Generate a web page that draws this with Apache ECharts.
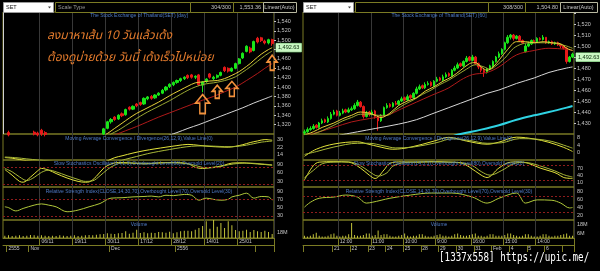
<!DOCTYPE html>
<html><head><meta charset="utf-8">
<script src="https://cdn.jsdelivr.net/npm/echarts@6/dist/echarts.min.js"></script>
<style>html,body{margin:0;padding:0;background:#000;}#c{width:600px;height:271px;}</style>
</head><body><div id="c"></div><script>
// ---------------- LEFT PANEL (daily) ----------------
const leftDates = ['22/10','24/10','25/10','26/10','29/10','30/10','31/10',
 '01/11','02/11','05/11','06/11','07/11','08/11','09/11','12/11','13/11','14/11','15/11','16/11','19/11','20/11','21/11','22/11','23/11','26/11','27/11','28/11','29/11','30/11',
 '03/12','04/12','06/12','07/12','11/12','12/12','13/12','14/12','17/12','18/12','19/12','20/12','21/12','24/12','25/12','26/12','27/12','28/12',
 '02/01','03/01','04/01','07/01','08/01','09/01','10/01','11/01','14/01','15/01','16/01','17/01','18/01','21/01','22/01','23/01','24/01','25/01','28/01','29/01','30/01','31/01',
 '01/02','04/02','05/02','06/02','07/02'];
// [open, close, low, high]
const leftOHLC = [
 [1296,1293,1289,1299],[1303,1298,1295,1307],[1297,1292,1289,1299],[1291,1287,1284,1294],[1286,1283,1279,1289],
 [1284,1288,1282,1291],[1289,1294,1287,1297],[1294,1298,1292,1299],[1304,1300,1297,1307],[1302,1298,1295,1305],
 [1308,1300,1296,1311],[1303,1299,1295,1306],[1294,1289,1286,1297],[1288,1284,1281,1291],[1284,1281,1278,1287],
 [1280,1277,1273,1283],[1278,1282,1276,1285],[1281,1277,1274,1284],[1276,1272,1268,1279],[1273,1276,1270,1279],
 [1277,1274,1271,1280],[1275,1279,1273,1282],[1280,1284,1278,1287],[1285,1288,1283,1291],[1289,1286,1283,1292],
 [1287,1292,1285,1295],[1292,1297,1290,1299],[1300,1311,1298,1313],[1312,1326,1310,1328],[1326,1331,1322,1334],
 [1336,1331,1328,1338],[1332,1340,1330,1342],[1343,1339,1336,1346],[1341,1352,1339,1354],[1357,1353,1350,1359],
 [1353,1359,1351,1361],[1364,1360,1357,1366],[1367,1363,1360,1369],[1364,1376,1362,1378],[1375,1379,1372,1381],
 [1380,1376,1373,1383],[1377,1383,1375,1385],[1383,1387,1381,1389],[1387,1393,1385,1396],[1394,1400,1391,1402],
 [1401,1406,1398,1408],[1405,1410,1402,1412],[1410,1414,1407,1416],[1414,1418,1411,1420],[1418,1421,1415,1423],
 [1425,1420,1417,1427],[1426,1421,1418,1428],[1421,1423,1417,1425],[1426,1405,1402,1428],[1404,1411,1389,1413],
 [1412,1417,1409,1419],[1428,1421,1418,1430],[1418,1421,1414,1424],[1421,1425,1418,1427],[1425,1431,1423,1433],
 [1442,1435,1432,1444],[1440,1434,1431,1442],[1434,1440,1432,1442],[1440,1450,1438,1452],[1450,1460,1448,1462],
 [1462,1472,1460,1474],[1476,1487,1474,1489],[1483,1475,1472,1486],[1478,1497,1476,1499],[1504,1496,1493,1507],
 [1505,1499,1496,1507],[1498,1494,1491,1501],[1494,1501,1491,1503],[1501,1492.63,1488,1503]];
const leftMA10 = [[24,1284],[26,1291],[28,1301],[30,1312],[32,1323],[34,1334],[36,1344],[38,1352],[40,1360],[42,1368],[44,1377],[46,1386],[48,1394],[50,1402],[52,1409],[54,1411],[56,1413],[58,1414],[60,1418],[62,1425],[64,1433],[66,1444],[67,1450],[68,1457],[70,1470],[72,1480],[73,1484]];
const leftMA15 = [[25,1282],[27,1288],[29,1300],[31,1308],[33,1318],[35,1328],[37,1338],[39,1347],[41,1355],[43,1363],[45,1371],[47,1380],[49,1389],[51,1397],[53,1403],[55,1407],[57,1409],[59,1412],[61,1416],[63,1422],[65,1432],[67,1443],[69,1455],[71,1467],[73,1477]];
const leftMA25 = [[27,1290],[30,1298],[33,1307],[36,1316],[39,1326],[42,1336],[45,1345],[48,1354],[51,1363],[54,1372],[57,1380],[60,1390],[63,1400],[66,1414],[69,1429],[71,1440],[73,1450]];
const leftMA75 = [[42,1290],[45,1298],[47,1303],[50,1312],[53,1320],[56,1329],[59,1338],[62,1347],[65,1356],[68,1366],[71,1375],[73,1381]];
const leftMACD = [[0,10.6],[2,9.9],[4,8.6],[6,7.2],[9,6.5],[12,5.8],[15,3.5],[18,1],[21,-1],[24,0],[26,3],[28,7],[30,10.5],[32,12.5],[35,15.5],[38,18],[41,20],[44,21.8],[47,23.5],[50,24.8],[53,23.8],[56,22.6],[59,22],[61,21.8],[63,22.8],[65,24.5],[67,26.8],[69,28.5],[71,30],[73,29.3]];
const leftSignal = [[0,11.2],[3,10.5],[6,9.2],[9,8],[12,7],[15,5.5],[18,3.5],[21,1.5],[24,0.5],[27,2],[29,4],[31,6.5],[33,8.8],[36,11.8],[39,14.8],[42,17.2],[45,19.3],[48,21.3],[51,22.8],[54,23.2],[57,22.9],[60,22.4],[62,22.3],[64,22.9],[66,24],[68,25.6],[70,27.2],[73,28.4]];
const leftK = [[0,72],[2,52],[4,30],[5,27],[7,45],[9,68],[10,76],[12,70],[14,58],[17,42],[20,30],[22,27],[23,28],[25,48],[27,77],[29,92],[31,97],[34,96],[38,92],[42,96],[46,97],[50,93],[52,80],[54,76],[56,79],[58,82],[60,88],[62,95],[65,96],[67,94],[69,92],[71,90],[73,87]];
const leftD = [[0,76],[2,64],[4,46],[6,33],[8,44],[10,62],[12,70],[14,64],[17,50],[20,37],[22,30],[24,32],[26,50],[28,72],[30,88],[32,95],[36,95],[40,94],[44,96],[48,95],[51,90],[53,83],[55,78],[57,79],[59,83],[61,89],[64,94],[67,95],[70,92],[73,89]];
const leftRSI = [[0,52],[1,50],[3,42],[5,48],[8,56],[10,59],[12,56],[14,52],[17,40],[20,44],[23,52],[26,60],[29,73],[32,74],[35,76],[38,77],[40,78],[42,76],[44,80],[46,79],[49,82],[51,80],[53,68],[55,73],[57,70],[59,68],[61,70],[62,76],[64,80],[66,85],[68,73],[70,77],[72,76],[73,68]];
const leftVol = [7,8,6,7,8,6,7,9,8,7, 8,7,6,7,6,8,7,6,7,8, 6,7,8,9,8,10,11,12,14,13, 12,14,15,20,13,16,25,15,17,14,
 16,15,18,17,16,19,14,17,20,22, 22,20,25,30,36,50,28,54,34,45, 30,50,38,24,20,22,25,18,24,20, 18,22,18,12];
const leftTopTicks = {10:'06/11',19:'19/11',28:'30/11',37:'17/12',46:'28/12',55:'14/01',64:'25/01'};
const leftLowTicks = {1:'2555',7:'Nov',29:'Dec',47:'2556',69:''};
const leftPriceLabels = [1320,1340,1360,1380,1400,1420,1440,1460,1500,1520,1540];
const leftMacdLabels = [14,22,30];
const leftStochLabels = [30,60,90];
const leftRsiLabels = [30,50,70,90];
const leftVolLabels = [18];
// arrows: [categoryIndex, price, width, height]
const leftArrows = [[54,1364,14,19],[58,1390,10,13],[62,1396,12,15],[73,1452,10,15]];

// ---------------- RIGHT PANEL (60 min) ----------------
const rightDays = ['17/01','18/01','21/01','22/01','23/01','24/01','25/01','28/01','29/01','30/01','31/01','01/02','04/02','05/02','06/02','07/02'];
const rightHours = ['10:00','11:00','12:00','14:00','15:00','16:00'];
const rightOHLC = [
 [1421,1422,1419,1424],[1422,1424,1421,1426],[1424,1425,1423,1427],[1425,1427,1424,1429],[1428,1426,1425,1429],
 [1426,1430,1425,1431],[1430,1432,1429,1434],[1433,1431,1430,1434],[1431,1434,1430,1436],[1434,1438,1433,1440],
 [1438,1440,1437,1442],[1441,1437,1436,1442],[1437,1439,1436,1441],[1439,1441,1438,1443],[1442,1440,1439,1443],
 [1440,1442,1439,1444],[1442,1443,1441,1445],[1443,1446,1442,1448],[1446,1449,1445,1451],[1449,1445,1444,1450],
 [1445,1436,1434,1446],[1436,1439,1435,1441],[1440,1438,1436,1441],[1438,1440,1437,1442],[1441,1436,1434,1442],
 [1436,1432,1423,1437],[1432,1437,1431,1438],[1437,1444,1436,1445],[1444,1446,1443,1448],[1447,1445,1444,1448],
 [1445,1448,1444,1449],[1448,1447,1446,1450],[1447,1450,1446,1451],[1450,1452,1449,1454],[1453,1451,1450,1454],
 [1451,1454,1450,1456],[1455,1453,1452,1456],[1453,1457,1452,1458],[1457,1461,1456,1463],[1461,1463,1460,1465],
 [1464,1462,1461,1465],[1462,1465,1461,1467],[1465,1466,1464,1468],[1467,1464,1463,1468],[1464,1468,1463,1469],
 [1468,1470,1467,1472],[1471,1469,1468,1472],[1469,1472,1468,1474],[1472,1474,1471,1476],[1475,1473,1472,1476],
 [1473,1478,1472,1479],[1478,1480,1477,1482],[1480,1483,1479,1485],[1484,1482,1481,1485],[1482,1486,1481,1487],
 [1486,1489,1485,1491],[1490,1487,1486,1491],[1487,1490,1486,1492],[1490,1484,1483,1491],[1484,1481,1479,1485],
 [1481,1478,1476,1482],[1478,1476,1472,1479],[1476,1479,1475,1480],[1479,1482,1478,1483],[1482,1486,1481,1487],
 [1486,1490,1485,1491],[1490,1493,1489,1495],[1493,1497,1492,1498],[1497,1503,1496,1504],[1503,1508,1502,1510],
 [1508,1510,1506,1511],[1510,1507,1505,1511],[1507,1509,1506,1510],[1509,1505,1504,1510],[1505,1503,1502,1506],
 [1495,1500,1494,1502],[1500,1502,1499,1504],[1502,1505,1501,1506],[1505,1504,1503,1506],[1504,1507,1503,1508],
 [1507,1506,1505,1508],[1506,1508,1505,1510],[1508,1503,1502,1508],[1503,1504,1502,1505],[1504,1502,1501,1505],
 [1502,1503,1501,1504],[1503,1501,1500,1504],[1501,1500,1498,1502],[1500,1498,1497,1501],[1498,1486,1484,1499],
 [1486,1490,1485,1491],[1490,1492.63,1489,1494]];
const rightMA10 = [[0,1419],[3,1422],[6,1426],[10,1430],[13,1434],[16,1437],[19,1440],[22,1439],[24,1437],[26,1435],[29,1439],[32,1446],[35,1450],[38,1453],[41,1459],[44,1463],[47,1468],[50,1472],[53,1478],[56,1484],[58,1485],[60,1481],[62,1478],[64,1481],[66,1487],[69,1497],[72,1504],[75,1504],[78,1503],[81,1504],[84,1503],[87,1502],[89,1498],[91,1496]];
const rightMA15 = [[0,1417],[3,1420],[6,1423],[10,1428],[13,1432],[16,1435],[19,1438],[22,1438],[25,1437],[28,1437],[31,1442],[34,1447],[37,1451],[40,1456],[43,1460],[46,1465],[49,1469],[52,1474],[55,1479],[58,1483],[61,1481],[63,1479],[65,1482],[68,1489],[71,1498],[74,1502],[77,1503],[80,1503],[83,1503],[86,1502],[89,1500],[91,1498]];
const rightMA25 = [[0,1418],[5,1422],[10,1426],[16,1431],[22,1434],[28,1437],[33,1443],[38,1449],[43,1455],[49,1462],[53,1469],[57,1474],[62,1476],[66,1481],[72,1492],[78,1496],[83,1498],[89,1497],[91,1496]];
const rightMA75 = [[12,1419],[18,1422],[24,1425],[32,1429],[38,1433],[43,1438],[49,1444],[57,1452],[62,1457],[66,1460],[72,1466],[78,1471],[83,1476],[89,1480],[91,1481]];
const rightMA200 = [[49,1417],[53,1420],[60,1424],[66,1428],[72,1433],[78,1437],[83,1440],[89,1444],[91,1445.5]];
const rightMACD = [[0,-2],[4,1.8],[10,4.6],[18,5.8],[21,4.8],[26,2.9],[30,1.8],[36,2.9],[44,6.2],[49,8.2],[55,6.2],[62,4.5],[66,5.6],[72,8.3],[78,7.3],[83,5.5],[88,2.8],[91,0.6]];
const rightSignal = [[0,-1],[4,0.5],[10,3],[18,5],[22,5],[27,3.6],[31,2.5],[37,3],[45,5.4],[50,7.4],[56,6.5],[62,5],[67,5.3],[73,7.5],[79,7.2],[84,6],[88,4],[91,2.4]];
const rightK = [[0,20],[3,80],[5,95],[10,97],[15,95],[19,70],[22,40],[24,26],[27,62],[29,90],[33,96],[38,95],[43,97],[49,95],[53,92],[56,74],[60,40],[62,30],[66,70],[70,95],[73,96],[76,90],[80,70],[84,55],[86,45],[88,30],[91,26]];
const rightD = [[0,30],[3,60],[6,88],[10,95],[15,96],[19,80],[22,55],[25,36],[28,50],[30,78],[34,93],[38,95],[43,96],[49,95],[53,93],[57,80],[60,55],[63,40],[67,60],[71,88],[74,94],[77,90],[81,75],[85,58],[88,42],[91,32]];
const rightRSI = [[0,42],[2,54],[5,64],[10,67],[14,72],[18,67],[20,55],[21,52],[23,54],[26,59],[29,64],[36,72],[43,77],[50,77],[57,67],[62,52],[66,64],[72,77],[75,52],[79,60],[84,59],[87,52],[90,40],[91,41]];
const rightVol = [3,2,3,5, 7,3,2,2,3,5, 6,3,2,3,3,5, 20,4,3,3,4,6, 6,3,4,10,4,5, 5,3,2,2,3,4, 6,3,2,3,3,5, 5,3,2,2,3,4,
 5,3,3,2,3,5, 6,4,3,3,4,5, 6,3,3,2,3,5, 5,3,3,3,4,6, 6,4,3,2,3,5, 5,3,2,2,3,5, 5,3,2,3,3,4, 5,6,3,3];
const rightTopTicks = {12:'12:00',23:'11:00',34:'10:00',45:'9:00',57:'16:00',68:'15:00',79:'14:00'};
const rightLowTicks = {0:'',10:'21',16:'22',22:'23',28:'24',34:'25',40:'28',46:'29',52:'30',58:'31',64:'Feb',70:'4',76:'5',82:'6',88:''};
const rightPriceLabels = [1430,1440,1450,1460,1470,1480,1500,1510,1520];
const rightMacdLabels = [0,4,8];
const rightStochLabels = [10,40,70];
const rightRsiLabels = [20,40,60,80];
const rightVolLabels = [6,18];
const lastPrice = 1492.63;

// build hourly categories from days
const rightCats = [];
rightDays.forEach((d,k)=>{
  let hrs = rightHours;
  if (k===0) hrs = rightHours.slice(2);
  if (k===rightDays.length-1) hrs = rightHours.slice(0,4);
  hrs.forEach(h=>rightCats.push(d+' '+h));
});

// ---------------- layout / style ----------------
const FONT = 'Liberation Sans, Arial, sans-serif';
const OLIVE = '#7b7b24';
const LBL = '#c4c4c4';
const TITLE = '#4e79c4';
const PANES = [['price',12,122],['macd',134,26],['stoch',160,27],['rsi',187,33],['vol',220,18]];
const grids=[], xAxis=[], yAxis=[], series=[];

function fmtPrice(v){ return v.toLocaleString('en-US'); }

function addPanel(c){
  const g0 = grids.length, x0 = xAxis.length;
  const has = (o)=> (i)=> Object.prototype.hasOwnProperty.call(o,i);
  PANES.forEach(([k,top,h],j)=>{
    grids.push({left:c.left, width:271, top:top, height:h, show:true, borderColor:OLIVE, borderWidth:1,
      backgroundColor:'transparent', outerBoundsMode:'none'});
    const isVol = k==='vol';
    xAxis.push({type:'category', gridIndex:g0+j, data:c.cats, boundaryGap:true,
      axisLine:{show:isVol, lineStyle:{color:OLIVE}},
      axisTick:{show:isVol, interval:has(c.topTicks), length:7, alignWithLabel:false, lineStyle:{color:OLIVE}},
      axisLabel:{show:isVol, interval:has(c.topTicks), formatter:(v,i)=>c.topTicks[i]||'', align:'left',
        margin:1.5, fontSize:5, color:LBL, fontFamily:FONT},
      splitLine:{show:true, interval:has(c.topTicks), lineStyle:{color:'#383838', width:1}}
    });
  });
  // lower date row
  xAxis.push({type:'category', gridIndex:g0+4, data:c.cats, boundaryGap:true, position:'bottom', offset:7,
    axisLine:{show:true, lineStyle:{color:OLIVE}},
    axisTick:{show:true, interval:has(c.lowTicks), length:7, lineStyle:{color:OLIVE}},
    axisLabel:{show:true, interval:has(c.lowTicks), formatter:(v,i)=>c.lowTicks[i]||'', align:'left',
      margin:1.5, fontSize:5, color:LBL, fontFamily:FONT},
    splitLine:{show:false}
  });
  const ya = (j,min,max,interval,labels,fmt,tick)=>{
    yAxis.push({type:'value', gridIndex:g0+j, position:'right', min:min, max:max, interval:interval, scale:true,
      axisLine:{show:false}, splitLine:{show:false},
      axisTick:{show:!!tick, length:2, lineStyle:{color:LBL}},
      axisLabel:{showMinLabel:false, showMaxLabel:false, margin:3, fontSize:5.5, color:LBL, fontFamily:FONT,
        formatter:(v)=> labels.indexOf(v)>=0 ? fmt(v) : ''}
    });
  };
  ya(0,c.pMin,c.pMax,c.pInt,c.priceLabels,fmtPrice,true);
  ya(1,c.mMin,c.mMax,2,c.macdLabels,(v)=>String(v));
  ya(2,c.sMin,c.sMax,10,c.stochLabels,(v)=>String(v));
  ya(3,c.rMin,c.rMax,10,c.rsiLabels,(v)=>String(v));
  ya(4,0,c.vMax,c.vInt,c.volLabels,(v)=>v+'M');
  const y0 = g0;
  const line = (j,data,color,width,extra)=>Object.assign({type:'line', xAxisIndex:x0+j, yAxisIndex:y0+j, data:data,
    symbol:'none', smooth:0.35, clip:true, silent:true, lineStyle:{color:color, width:width||1}}, extra||{});
  const candle = {type:'candlestick', xAxisIndex:x0, yAxisIndex:y0, data:c.ohlc, barWidth:c.barW, clip:true, silent:true,
    itemStyle:{color:'#19e619', color0:'#e61919', borderColor:'#19e619', borderColor0:'#e61919', borderWidth:1},
    markLine:{silent:true, symbol:'none', data:[{yAxis:lastPrice}], lineStyle:{color:'rgba(0,0,0,0)', width:1, type:'solid'},
      label:{show:true, position:'end', distance:2, formatter:'1,492.63', fontSize:5.5, fontFamily:FONT, color:'#0a2a0a',
        backgroundColor:'#c9f7c2', borderColor:'#6fbf6f', borderWidth:0.5, padding:[1.5,2,1,2], offset:[0,c.boxOff]}}
  };
  if (c.arrows) candle.markPoint = {silent:true, label:{show:false},
    symbol:'path://M5,0 L10,5.5 L7,5.5 L7,12 L3,12 L3,5.5 L0,5.5 Z',
    itemStyle:{color:'rgba(0,0,0,0)', borderColor:'#f2913c', borderWidth:1.6},
    data:c.arrows.map(a=>({coord:[a[0],a[1]], symbolSize:[a[2],a[3]]}))};
  c.mas.forEach(m=>series.push(line(0,m[0],m[1],m[2])));
  series.push(candle);
  series.push(line(1,c.macd,'#e3e33a'));
  series.push(line(1,c.signal,'#a8b838'));
  const lvl = (a,b)=>({silent:true, symbol:'none', label:{show:false},
    lineStyle:{color:'#8e1c1c', type:[2,2], width:1}, data:[{yAxis:a},{yAxis:b}]});
  series.push(line(2,c.k,'#e3e33a',1,{markLine:lvl(80,20)}));
  series.push(line(2,c.d,'#a8b838'));
  series.push(line(3,c.rsi,'#b0c83a',1,{markLine:lvl(70,30)}));
  series.push({type:'bar', xAxisIndex:x0+4, yAxisIndex:y0+4, data:c.vol, barWidth:1, silent:true,
    itemStyle:{color:'#c2c23a'}});
}

addPanel({left:3, cats:leftDates, topTicks:leftTopTicks, lowTicks:leftLowTicks, ohlc:leftOHLC, barW:2.6,
  pMin:1300,pMax:1560,pInt:20, priceLabels:leftPriceLabels, boxOff:4,
  mMin:8,mMax:36, macdLabels:leftMacdLabels, sMin:10,sMax:106, stochLabels:leftStochLabels,
  rMin:20,rMax:100, rsiLabels:leftRsiLabels, vMax:54, vInt:18, volLabels:leftVolLabels,
  mas:[[leftMA75,'#d6d6d6',1],[leftMA25,'#b01a1a',1],[leftMA15,'#9aa832',1],[leftMA10,'#e6d03a',1]],
  macd:leftMACD, signal:leftSignal, k:leftK, d:leftD, rsi:leftRSI, vol:leftVol, arrows:leftArrows});
addPanel({left:303, cats:rightCats, topTicks:rightTopTicks, lowTicks:rightLowTicks, ohlc:rightOHLC, barW:2,
  pMin:1420,pMax:1531,pInt:10, priceLabels:rightPriceLabels, boxOff:3,
  mMin:-4,mMax:10, macdLabels:rightMacdLabels, sMin:-10,sMax:104, stochLabels:rightStochLabels,
  rMin:10,rMax:92, rsiLabels:rightRsiLabels, vMax:24, vInt:6, volLabels:rightVolLabels,
  mas:[[rightMA200,'#2fd3e3',2],[rightMA75,'#d6d6d6',1],[rightMA25,'#b01a1a',1],[rightMA15,'#9aa832',1],[rightMA10,'#e6d03a',1]],
  macd:rightMACD, signal:rightSignal, k:rightK, d:rightD, rsi:rightRSI, vol:rightVol});

// ---------------- decorations (toolbar, titles, notes) ----------------
const gfx = [];
function rect(x,y,w,h,fill,stroke){ gfx.push({type:'rect', silent:true, shape:{x:x+0.5,y:y+0.5,width:w,height:h}, style:{fill:fill, stroke:stroke, lineWidth:1}, z:10}); }
function txt(x,y,t,o){ o=o||{}; gfx.push({type:'text', silent:true, x:x, y:y, z:11, scaleX:o.sx||1,
  style:{text:t, fill:o.fill||LBL, fontSize:o.size||5.5, fontFamily:o.font||FONT, fontStyle:o.style||'normal', fontWeight:o.weight||'normal',
    align:o.align||'left', textAlign:o.align||'left', verticalAlign:'middle', textVerticalAlign:'middle'}}); }
function toolbar(x0, boxes){
  rect(x0,2,50,10,'#ffffff','#9a9a9a');
  txt(x0+3,7.5,'SET',{fill:'#111'});
  gfx.push({type:'polygon', silent:true, z:11, shape:{points:[[x0+45,6.5],[x0+48,6.5],[x0+46.5,8.5]]}, style:{fill:'#444'}});
  boxes.forEach(b=>{ rect(b[0],2,b[1]-b[0],10,'#000',b[4]||OLIVE); if(b[2]) txt(b[3]==='r'?b[1]-2:(b[3]==='c'?(b[0]+b[1])/2:b[0]+3),7.5,b[2],{align:b[3]==='r'?'right':(b[3]==='c'?'center':'left'), fill:b[3]==='l'?'#9a9a9a':LBL}); });
}
toolbar(3,[[55,190,'Scale Type','l'],[190,233,'304/300','r'],[233,263,'1,553.36','r'],[263,296,'Linear(Auto)','c','#b8b8a0']]);
toolbar(303,[[355,488,'',''],[488,525,'308/300','r'],[525,560,'1,504.80','r'],[560,597,'Linear(Auto)','c','#b8b8a0']]);
const titles = [[15.7,'The Stock Exchange of Thailand(SET) [day]','The Stock Exchange of Thailand(SET) [60]'],
 [138.5,'Moving Average Convergence / Divergence(26,12,9),Value Line(0)','Moving Average Convergence / Divergence(26,12,9),Value Line(0)'],
 [164,'Slow Stochastics Oscillator(14,1,3),Overbought Level(80),Oversold Level(20)','Slow Stochastics Oscillator(14,3,3),Overbought Level(80),Oversold Level(20)'],
 [191.5,'Relative Strength Index(CLOSE,14,30,70),Overbought Level(70),Oversold Level(30)','Relative Strength Index(CLOSE,14,30,70),Overbought Level(70),Oversold Level(30)'],
 [224.5,'Volume','Volume']];
titles.forEach(t=>{ txt(139,t[0],t[1],{fill:TITLE,size:5,align:'center'}); txt(439,t[0],t[2],{fill:TITLE,size:5,align:'center'}); });
// white left frame of price pane
gfx.push({type:'line', silent:true, z:9, shape:{x1:3.5,y1:12,x2:3.5,y2:134}, style:{stroke:'#d0d0d0', lineWidth:1}});
// Thai note
const THAI = "'Noto Sans Thai','Noto Sans Thai UI','Noto Serif Thai','Loma','Garuda','Norasi','Tlwg Typo',sans-serif";
txt(47,37,'ลงมาหาเส้น 10 วันแล้วเด้ง',{fill:'#e27a2c',size:12,font:THAI,style:'italic'});
txt(47,59,'ต้องดูบ่ายด้วย วันนี้ เด้งเร็วไปหน่อย',{fill:'#e27a2c',size:12,font:THAI,style:'italic'});
// watermark
txt(439,258,'[1337x558] https://upic.me/',{fill:'#ffffff',size:12,font:'DejaVu Sans Mono, monospace',sx:0.77});

const chart = echarts.init(document.getElementById('c'), null, {renderer:'canvas', devicePixelRatio:1});
chart.setOption({
  backgroundColor:'#000', animation:false, textStyle:{fontFamily:FONT},
  grid:grids, xAxis:xAxis, yAxis:yAxis, series:series, graphic:{elements:gfx}
});
</script></body></html>
